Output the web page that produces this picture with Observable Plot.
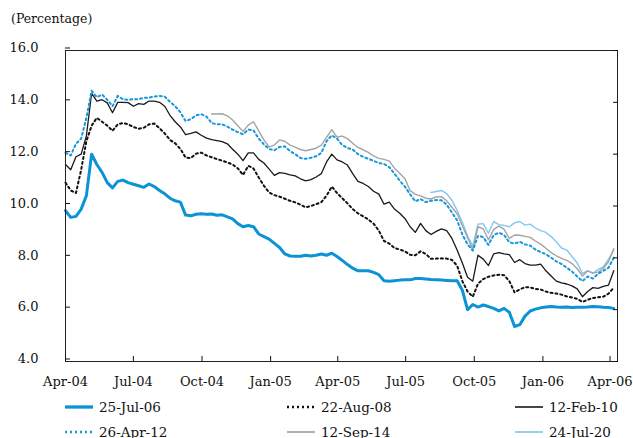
<!DOCTYPE html>
<html>
<head>
<meta charset="utf-8">
<script src="https://cdn.jsdelivr.net/npm/d3@7"></script>
<script src="https://cdn.jsdelivr.net/npm/@observablehq/plot@0.6"></script>
<style>
  body { margin: 0; background: #fff; font-family: "DejaVu Serif", serif; color: #111; }
  #wrap { position: relative; width: 633px; height: 438px; overflow: hidden; }
  #unit { position: absolute; left: 11px; top: 11px; font-size: 12.5px; line-height: 15px; }
  #legend { position: absolute; left: 65px; top: 394px; display: grid;
            grid-template-columns: 222px 228px 120px; grid-auto-rows: 25px; font-size: 13.5px; }
  .item { display: flex; align-items: center; }
  .item svg { margin-right: 6px; }
</style>
</head>
<body>
<div id="wrap">
  <div id="chart"></div>
  <div id="unit">(Percentage)</div>
  <div id="legend"></div>
</div>
<script>
// weekly observations, first one on 1 Apr 2004
const firstWeek = new Date(Date.UTC(2004, 3, 1))
const xDomain = [new Date(Date.UTC(2004, 3, 1)), new Date(Date.UTC(2006, 3, 11))]
const xTicks = ["2004-04-01", "2004-07-01", "2004-10-01", "2005-01-01", "2005-04-01",
                "2005-07-01", "2005-10-01", "2006-01-01", "2006-04-01"]
const yTicks = [4, 6, 8, 10, 12, 14, 16]

const jul06 = [9.82, 9.56, 9.6, 9.88, 10.4, 12.0, 11.6, 11.3, 10.9, 10.7,
  10.95, 11.0, 10.9, 10.84, 10.78, 10.72, 10.85, 10.75, 10.6, 10.47,
  10.3, 10.2, 10.15, 9.65, 9.62, 9.68, 9.7, 9.68, 9.69, 9.64,
  9.66, 9.58, 9.5, 9.32, 9.2, 9.25, 9.2, 8.92, 8.82, 8.72,
  8.56, 8.4, 8.15, 8.07, 8.06, 8.06, 8.1, 8.07, 8.1, 8.15,
  8.1, 8.18, 8.05, 7.9, 7.74, 7.6, 7.5, 7.5, 7.5, 7.44,
  7.35, 7.12, 7.1, 7.12, 7.14, 7.15, 7.15, 7.2, 7.2, 7.18,
  7.16, 7.15, 7.14, 7.13, 7.12, 7.12, 6.75, 6.0, 6.2, 6.1,
  6.18, 6.12, 6.05, 5.95, 6.05, 5.9, 5.35, 5.42, 5.75, 5.95,
  6.02, 6.07, 6.1, 6.12, 6.1, 6.09, 6.1, 6.08, 6.09, 6.09,
  6.1, 6.12, 6.11, 6.09, 6.08, 6.05]

const aug08 = [10.9, 10.6, 10.5, 11.4, 12.5, 13.1, 13.4, 13.25, 13.1, 12.9,
  13.15, 13.2, 13.15, 13.05, 12.98, 13.02, 13.15, 13.18, 13.0, 12.8,
  12.55, 12.42, 12.2, 11.87, 11.85, 12.02, 12.06, 11.95, 11.88, 11.81,
  11.75, 11.68, 11.6, 11.45, 11.2, 11.55, 11.45, 11.1, 10.78, 10.52,
  10.42, 10.36, 10.28, 10.2, 10.14, 10.05, 9.95, 10.0, 10.07, 10.15,
  10.4, 10.75, 10.5, 10.3, 10.1, 9.88, 9.72, 9.6, 9.48, 9.32,
  9.05, 8.65, 8.55, 8.38, 8.32, 8.25, 8.12, 8.1, 8.25, 8.15,
  7.96, 7.97, 7.98, 7.97, 7.92, 7.7, 7.1, 6.7, 6.5, 7.0,
  7.18, 7.27, 7.32, 7.35, 7.33, 7.1, 6.67, 6.78, 6.87, 6.86,
  6.8, 6.78, 6.7, 6.65, 6.62, 6.58, 6.51, 6.47, 6.42, 6.3,
  6.38, 6.45, 6.48, 6.5, 6.62, 6.85]

const feb10 = [11.6, 11.4, 11.9, 12.0, 12.7, 14.35, 14.05, 14.1, 13.98, 13.6,
  14.0, 14.0, 13.99, 13.85, 13.95, 13.92, 14.05, 14.05, 14.0, 13.85,
  13.5, 13.25, 13.05, 12.75, 12.8, 12.86, 12.73, 12.62, 12.56, 12.52,
  12.48, 12.4, 12.19, 12.0, 11.75, 12.05, 12.05, 11.8, 11.66, 11.42,
  11.18, 11.29, 11.26, 11.2, 11.16, 11.05, 10.97, 11.02, 11.12, 11.25,
  11.7, 12.0, 11.78, 11.7, 11.58, 11.25, 10.95, 10.87, 10.75, 10.57,
  10.46, 10.07, 10.15, 9.88, 9.72, 9.52, 9.2, 8.98, 9.33, 9.05,
  8.9, 9.02, 9.12, 9.05, 8.75, 8.3, 7.8, 7.25, 7.1, 8.1,
  7.95, 7.7, 8.15, 8.2, 8.15, 8.12, 7.82, 7.93, 7.78, 7.72,
  7.72, 7.76, 7.5, 7.3, 7.1, 7.03, 6.99, 6.92, 6.8, 6.5,
  6.7, 6.85, 6.82, 6.9, 6.95, 7.5]

const apr12 = [12.05, 11.95, 12.4, 12.6, 13.4, 14.45, 14.2, 14.3, 14.1, 13.85,
  14.25, 14.12, 14.1, 14.12, 14.12, 14.18, 14.18, 14.22, 14.25, 14.22,
  14.02, 13.85, 13.62, 13.28, 13.35, 13.5, 13.54, 13.45, 13.2, 13.15,
  13.15, 13.06, 12.95, 12.85, 12.77, 12.95, 12.92, 12.6, 12.38, 12.2,
  12.15, 12.28, 12.3, 12.12, 12.0, 11.85, 11.82, 11.86, 11.92, 12.05,
  12.5, 12.73, 12.6, 12.35, 12.24, 12.18, 12.0, 11.9, 11.82, 11.74,
  11.66, 11.62, 11.5, 11.25, 10.98, 10.75, 10.45, 10.18, 10.27, 10.15,
  10.2, 10.23, 10.22, 10.05, 9.75, 9.45, 8.9, 8.52, 8.28, 8.85,
  8.8, 8.5, 8.88, 8.97, 8.88, 8.6, 8.55, 8.62, 8.52, 8.47,
  8.32, 8.22, 8.14, 8.01, 7.86, 7.76, 7.62, 7.47, 7.28, 7.1,
  7.28, 7.2, 7.38, 7.5, 7.62, 8.0]

// this bond starts being quoted in week 28
const sep14 = [13.55, 13.55, 13.56, 13.48, 13.32, 13.1, 12.88, 13.12, 13.25, 12.9,
  12.55, 12.28, 12.35, 12.55, 12.5, 12.35, 12.27, 12.18, 12.13, 12.18,
  12.23, 12.35, 12.65, 12.95, 12.66, 12.7, 12.6, 12.42, 12.26, 12.17,
  12.07, 11.93, 11.84, 11.8, 11.73, 11.46, 11.26, 11.05, 10.6, 10.45,
  10.39, 10.3, 10.27, 10.35, 10.36, 10.2, 9.95, 9.7, 9.24, 8.78,
  8.32, 9.2, 9.12, 8.7, 9.1, 9.22, 9.1, 8.75, 8.88, 8.87,
  8.83, 8.79, 8.65, 8.53, 8.37, 8.2, 8.08, 7.98, 7.9, 7.78,
  7.58, 7.3, 7.5, 7.42, 7.45, 7.6, 7.85, 8.35]

// and this one in week 70
const jul20 = [10.52, 10.56, 10.6, 10.48, 10.22, 9.83, 9.37, 8.85, 8.45, 9.3,
  9.32, 8.95, 9.4, 9.28, 9.25, 9.2, 9.35, 9.4, 9.26, 9.3,
  9.15, 9.05, 8.98, 8.82, 8.62, 8.38, 8.3, 8.05, 7.8, 7.4,
  7.5, 7.4, 7.55, 7.65, 7.95, 8.3]

const series = [
  {name: "25-Jul-06", values: jul06, from: 0},
  {name: "22-Aug-08", values: aug08, from: 0},
  {name: "12-Feb-10", values: feb10, from: 0},
  {name: "26-Apr-12", values: apr12, from: 0},
  {name: "12-Sep-14", values: sep14, from: 28},
  {name: "24-Jul-20", values: jul20, from: 70}
]

const styles = {
  "25-Jul-06": {stroke: "#0b93d6", strokeWidth: 3},
  "22-Aug-08": {stroke: "#111", strokeWidth: 2, strokeDasharray: "2,3"},
  "12-Feb-10": {stroke: "#1a1a1a", strokeWidth: 1.3},
  "26-Apr-12": {stroke: "#1597dc", strokeWidth: 2, strokeDasharray: "2,3"},
  "12-Sep-14": {stroke: "#a3a3a3", strokeWidth: 1.4},
  "24-Jul-20": {stroke: "#82c8ef", strokeWidth: 1.4}
}
const drawOrder = ["24-Jul-20", "12-Sep-14", "12-Feb-10", "22-Aug-08", "26-Apr-12", "25-Jul-06"]

const rows = series.flatMap(s => s.values.map((v, i) => ({
  name: s.name,
  date: d3.utcDay.offset(firstWeek, 7 * (s.from + i)),
  value: v
})))

const lines = drawOrder.map(n => Plot.line(rows.filter(d => d.name === n),
  {x: "date", y: "value", ...styles[n]}))

let chart = Plot.plot({
  width: 633,
  height: 392,
  marginTop: 50,
  marginRight: 16,
  marginBottom: 31,
  marginLeft: 65,
  style: {fontFamily: '"DejaVu Serif", serif', fontSize: "13px", color: "#111", background: "white"},
  x: {type: "utc", domain: xDomain},
  y: {domain: [4, 16]},
  marks: [
    ...lines,
    Plot.frame({stroke: "#222"}),
    Plot.axisY({ticks: yTicks, tickSize: -5, tickPadding: 32, dy: -2.5,
                tickFormat: d3.format(".1f"), label: null}),
    Plot.axisY({anchor: "right", ticks: yTicks, tickSize: -5, tickFormat: () => "", label: null}),
    Plot.axisX({ticks: xTicks.map(d => new Date(d)), tickSize: -5, tickPadding: 20,
                tickFormat: d3.utcFormat("%b-%y"), label: null})
  ]
})

d3.select('#chart').append(() => chart)

// legend, two rows of three
const legend = d3.select('#legend')
series.forEach(s => {
  const st = styles[s.name]
  const item = legend.append('div').attr('class', 'item')
  const sw = item.append('svg').attr('width', 28).attr('height', 6)
  sw.append('line')
    .attr('x1', 0).attr('x2', 28).attr('y1', 3).attr('y2', 3)
    .attr('stroke', st.stroke)
    .attr('stroke-width', st.strokeWidth + 0.3)
    .attr('stroke-dasharray', st.strokeDasharray || null)
  item.append('span').text(s.name)
})
</script>
</body>
</html>
